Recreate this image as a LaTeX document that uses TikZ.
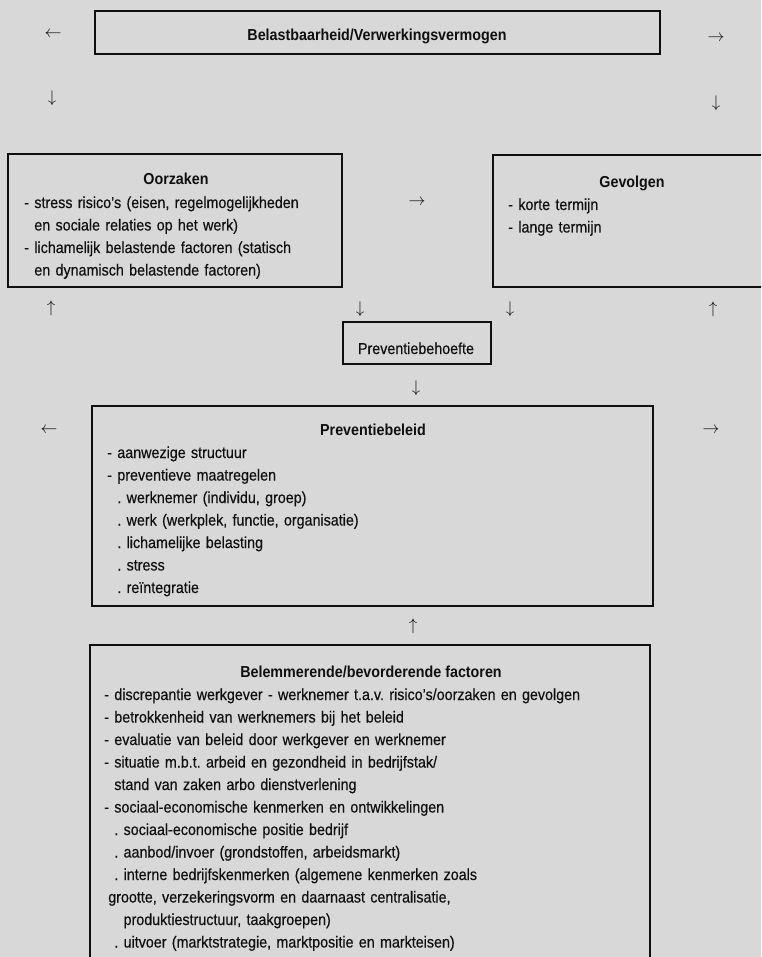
\documentclass[tikz,border=0pt]{standalone}
\usepackage{fontspec}
\setmainfont{Liberation Sans}[FakeStretch=0.9, UprightFeatures={FakeBold=0.35}]
\usepackage{tikz}
\usetikzlibrary{positioning, fit}
\definecolor{pagegrey}{RGB}{216,216,216}
\definecolor{inkdark}{RGB}{15,15,15}
\newcommand{\boxfont}{\fontsize{11.3pt}{16pt}\selectfont}
\frenchspacing
\tikzset{
  frame/.style={draw=inkdark, line width=1.5pt, inner sep=0pt},
  headtext/.style={font=\boxfont\bfseries, text=inkdark, inner sep=0pt, anchor=base},
  plaintext/.style={font=\boxfont, text=inkdark, inner sep=0pt, anchor=base},
  listtext/.style={font=\boxfont, text=inkdark, text width=14cm,
    align=left, inner sep=0pt, anchor=base west},
  arrowsym/.style={font=\fontsize{12pt}{14pt}\selectfont, text=inkdark, inner sep=0pt}
}

\begin{document}
\begin{tikzpicture}[x=0.025cm, y=-0.025cm]
  % Page
  \fill[pagegrey] (0,0) rectangle (761,957);
  \clip (0,0) rectangle (761,957);
  % Belastbaarheid
  \node[frame, fit={(95,11) (660,54)}] (belast) {};
  \node[headtext] (belastTitle) at (377,41) {Belastbaarheid/Verwerkingsvermogen};
  \node[arrowsym] (belastL) at (53,34) {$\leftarrow$};
  \node[arrowsym] (belastR) at (716,38) {$\rightarrow$};
  \node[arrowsym] (belastDL) at (52,98) {$\downarrow$};
  \node[arrowsym] (belastDR) at (716,103) {$\downarrow$};
  % Oorzaken
  \node[frame, fit={(8,154) (342,287)}] (oorzaken) {};
  \node[headtext] (oorzakenTitle) at (176,185) {Oorzaken};
  \node[listtext] (oorzakenList) at (24,208) {%
    - stress risico's (eisen, regelmogelijkheden\\
    \phantom{- }en sociale relaties op het werk)\\
    - lichamelijk belastende factoren (statisch\\
    \phantom{- }en dynamisch belastende factoren)};
  \node[arrowsym] (oorzakenR) at (417,202) {$\rightarrow$};
  % Gevolgen
  \node[frame, fit={(493,155) (800,287)}] (gevolgen) {};
  \node[headtext] (gevolgenTitle) at (632,188) {Gevolgen};
  \node[listtext] (gevolgenList) at (508,210) {%
    - korte termijn\\
    - lange termijn};
  % Arrows under the boxes
  \node[arrowsym] (oorzakenU) at (51,308) {$\uparrow$};
  \node[arrowsym] (oorzakenD) at (360,309) {$\downarrow$};
  \node[arrowsym] (gevolgenD) at (510,309) {$\downarrow$};
  \node[arrowsym] (gevolgenU) at (713,309) {$\uparrow$};
  % Preventiebehoefte
  \node[frame, fit={(343,322) (491,364)}] (behoefte) {};
  \node[plaintext] (behoefteTitle) at (416,354) {Preventiebehoefte};
  \node[arrowsym] (behoefteD) at (416,388) {$\downarrow$};
  % Preventiebeleid
  \node[frame, fit={(92,406) (653,606)}] (beleid) {};
  \node[headtext] (beleidTitle) at (373,435) {Preventiebeleid};
  \node[arrowsym] (beleidL) at (49,430) {$\leftarrow$};
  \node[arrowsym] (beleidR) at (711,430) {$\rightarrow$};
  \node[listtext] (beleidList) at (107,458) {%
    - aanwezige structuur\\
    - preventieve maatregelen\\
    \phantom{- }. werknemer (individu, groep)\\
    \phantom{- }. werk (werkplek, functie, organisatie)\\
    \phantom{- }. lichamelijke belasting\\
    \phantom{- }. stress\\
    \phantom{- }. reïntegratie};
  \node[arrowsym] (beleidU) at (413,626) {$\uparrow$};
  % Belemmerende/bevorderende factoren
  \node[frame, fit={(90,645) (650,1000)}] (factoren) {};
  \node[headtext] (factorenTitle) at (371,677) {Belemmerende/bevorderende factoren};
  \node[listtext] (factorenList) at (104,700) {%
    - discrepantie werkgever - werknemer t.a.v. risico's/oorzaken en gevolgen\\
    - betrokkenheid van werknemers bij het beleid\\
    - evaluatie van beleid door werkgever en werknemer\\
    - situatie m.b.t. arbeid en gezondheid in bedrijfstak/\\
    \phantom{- }stand van zaken arbo dienstverlening\\
    - sociaal-economische kenmerken en ontwikkelingen\\
    \phantom{- }. sociaal-economische positie bedrijf\\
    \phantom{- }. aanbod/invoer (grondstoffen, arbeidsmarkt)\\
    \phantom{- }. interne bedrijfskenmerken (algemene kenmerken zoals\\
    \hspace*{0.1cm}grootte, verzekeringsvorm en daarnaast centralisatie,\\
    \phantom{- . }produktiestructuur, taakgroepen)\\
    \phantom{- }. uitvoer (marktstrategie, marktpositie en markteisen)};
\end{tikzpicture}
\end{document}
